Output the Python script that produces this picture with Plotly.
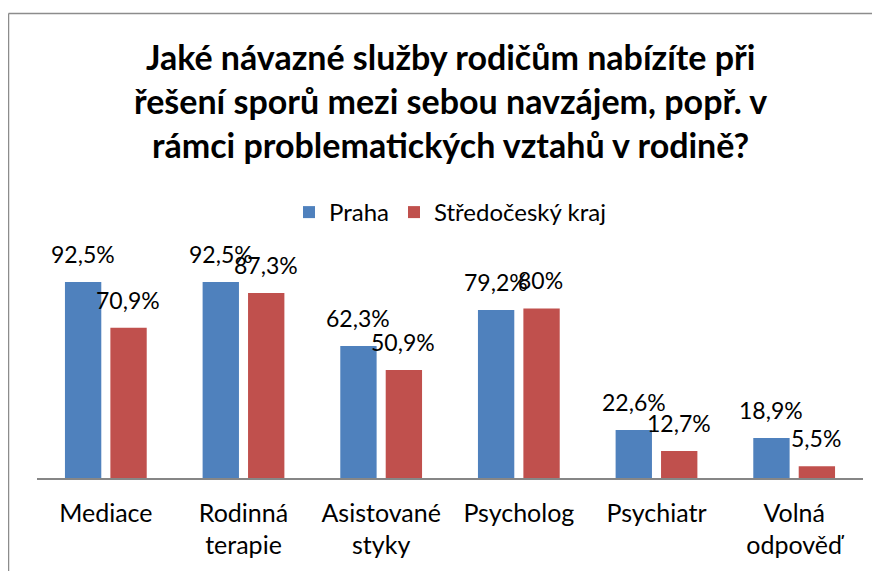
import plotly.graph_objects as go

categories = ['Mediace', 'Rodinná<br>terapie', 'Asistované<br>styky', 'Psycholog',
              'Psychiatr', 'Volná<br>odpověď']
praha = [92.5, 92.5, 62.3, 79.2, 22.6, 18.9]
stredocesky = [70.9, 87.3, 50.9, 80.0, 12.7, 5.5]
series_names = ['Praha', 'Středočeský kraj']
colors = ['#4F81BD', '#C0504D']
title_text = ('Jaké návazné služby rodičům nabízíte při<br>'
              'řešení sporů mezi sebou navzájem, popř. v<br>'
              'rámci problematických vztahů v rodině?')

FONT = 'Lato'

# the page puts the figure 8px in from the top-left corner of the window
OFF = 8
W, H = 880 - OFF, 571 - OFF
L, R, T, B = 37 - OFF, 880 - 863, 266 - OFF, 571 - 480  # plot area in window px


def fmt(v):
    if float(v).is_integer():
        return '%d%%' % v
    return ('%.1f%%' % v).replace('.', ',')


def px_x(p):
    # window pixel -> paper x
    return (p - OFF - L) / (W - L - R)


def px_y(p):
    # window pixel -> paper y
    return (H - B - (p - OFF)) / (H - B - T)


fig = go.Figure()
for name, vals, col in zip(series_names, [praha, stredocesky], colors):
    fig.add_trace(go.Bar(
        x=categories,
        y=vals,
        name=name,
        marker=dict(color=col, line=dict(width=0)),
        hoverinfo='skip',
    ))

annotations = []
for vals, shift in [(praha, -23), (stredocesky, 22)]:
    for c, v in zip(categories, vals):
        annotations.append(dict(
            x=c, y=v, xref='x', yref='y',
            text=fmt(v), showarrow=False,
            xshift=shift, yshift=12, yanchor='bottom',
            font=dict(family=FONT, size=23, color='#000000'),
        ))

annotations.append(dict(
    text=title_text, showarrow=False,
    x=0.5, xref='paper', xanchor='center',
    y=px_y(32), yref='paper', yanchor='top',
    font=dict(family=FONT, size=34, color='#000000', weight='bold'),
))

# chart frame (clipped on right and bottom like the reference)
shapes = [
    dict(type='line', xref='paper', yref='paper',
         x0=px_x(8.5), x1=px_x(8.5), y0=px_y(11), y1=px_y(580),
         line=dict(color='#8C8C8C', width=1.5)),
    dict(type='line', xref='paper', yref='paper',
         x0=px_x(8.5), x1=px_x(890), y0=px_y(11), y1=px_y(11),
         line=dict(color='#8C8C8C', width=1.5)),
]

fig.update_layout(
    width=W, height=H,
    margin=dict(l=L, r=R, t=T, b=B),
    paper_bgcolor='white', plot_bgcolor='white',
    barmode='group', bargap=0.34, bargroupgap=0.2,
    legend=dict(
        orientation='h', x=0.5, xanchor='center',
        y=px_y(212), yanchor='middle',
        font=dict(family=FONT, size=24, color='#000000'),
        itemwidth=30, traceorder='normal',
    ),
    xaxis=dict(
        showline=True, linecolor='#868686', linewidth=1.5,
        ticks='', showgrid=False, ticklabelstandoff=12,
        tickfont=dict(family=FONT, size=25, color='#000000'),
    ),
    yaxis=dict(range=[0, 100], visible=False, showgrid=False),
    annotations=annotations,
    shapes=shapes,
    font=dict(family=FONT),
)

fig.write_html('out.html')
